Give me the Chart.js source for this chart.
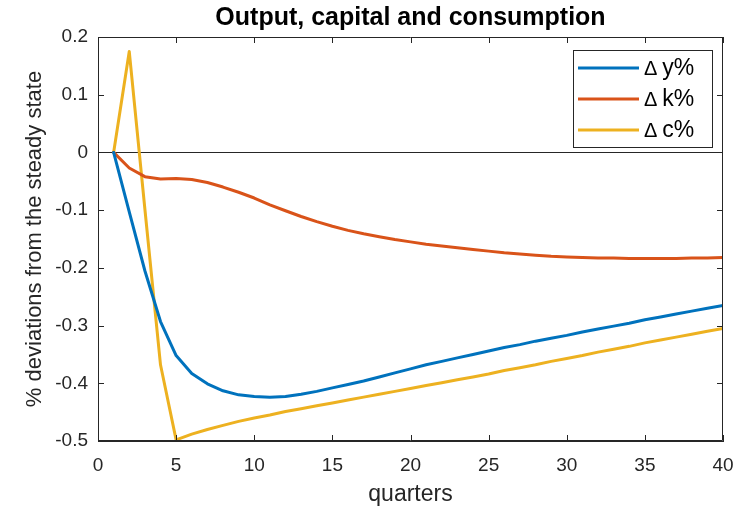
<!DOCTYPE html>
<html>
<head>
<meta charset="utf-8">
<script src="https://cdn.jsdelivr.net/npm/chart.js@4.4.1/dist/chart.umd.min.js"></script>
<style>
html,body{margin:0;padding:0;background:#fff;}
canvas{display:block;}
</style>
</head>
<body>
<canvas id="c" width="743" height="510"></canvas>
<script>
const quarters = [1,2,3,4,5,6,7,8,9,10,11,12,13,14,15,16,17,18,19,20,21,22,23,24,25,26,27,28,29,30,31,32,33,34,35,36,37,38,39,40];
const dy = [0,-0.103,-0.205,-0.293,-0.352,-0.383,-0.401,-0.413,-0.420,-0.423,-0.424,-0.423,-0.419,-0.414,-0.408,-0.402,-0.396,-0.389,-0.382,-0.375,-0.368,-0.362,-0.356,-0.350,-0.344,-0.338,-0.333,-0.327,-0.322,-0.317,-0.311,-0.306,-0.301,-0.296,-0.290,-0.285,-0.280,-0.275,-0.270,-0.265];
const dk = [0,-0.027,-0.042,-0.046,-0.045,-0.047,-0.052,-0.060,-0.069,-0.079,-0.091,-0.101,-0.111,-0.120,-0.128,-0.135,-0.141,-0.146,-0.151,-0.155,-0.159,-0.162,-0.165,-0.168,-0.171,-0.174,-0.176,-0.178,-0.180,-0.181,-0.182,-0.183,-0.183,-0.184,-0.184,-0.184,-0.184,-0.183,-0.183,-0.182];
const dc = [0,0.175,-0.098,-0.368,-0.498,-0.488,-0.480,-0.473,-0.466,-0.460,-0.455,-0.449,-0.444,-0.439,-0.434,-0.429,-0.424,-0.419,-0.414,-0.409,-0.404,-0.399,-0.394,-0.389,-0.384,-0.378,-0.373,-0.368,-0.362,-0.357,-0.352,-0.346,-0.341,-0.336,-0.330,-0.325,-0.320,-0.315,-0.310,-0.305];
const seriesLabels = ['\u0394 y%','\u0394 k%','\u0394 c%'];
const seriesColors = ['#0072BD','#D95319','#EDB120'];
const xTicks = [0,5,10,15,20,25,30,35,40];
const xTickLabels = ['0','5','10','15','20','25','30','35','40'];
const yTicks = [-0.5,-0.4,-0.3,-0.2,-0.1,0,0.1,0.2];
const yTickLabels = ['-0.5','-0.4','-0.3','-0.2','-0.1','0','0.1','0.2'];
const titleText = 'Output, capital and consumption';
const xTitle = 'quarters';
const yTitle = '% deviations from the steady state';

const FONT = "'Liberation Sans', Arial, sans-serif";
const AX = '#262626';

function pts(arr){ return quarters.map((q,i)=>({x:q,y:arr[i]})); }

const frameAndTicks = {
  id:'frameAndTicks',
  afterDatasetsDraw(chart){
    const {ctx, chartArea:a, scales:{x,y}} = chart;
    ctx.save();
    ctx.strokeStyle = AX; ctx.lineWidth = 1;
    ctx.beginPath();
    ctx.rect(a.left+0.5, a.top+0.5, a.right-a.left-1, a.bottom-a.top-1);
    ctx.stroke();
    const L = 6;
    ctx.beginPath();
    x.ticks.forEach(t=>{
      const px = Math.round(x.getPixelForValue(t.value))+0.5;
      ctx.moveTo(px,a.bottom); ctx.lineTo(px,a.bottom-L);
      ctx.moveTo(px,a.top); ctx.lineTo(px,a.top+L);
    });
    y.ticks.forEach(t=>{
      const py = Math.round(y.getPixelForValue(t.value))+0.5;
      ctx.moveTo(a.left,py); ctx.lineTo(a.left+L,py);
      ctx.moveTo(a.right,py); ctx.lineTo(a.right-L,py);
    });
    ctx.stroke();
    ctx.restore();
  },
  afterDraw(chart){
    const {ctx, chartArea:a} = chart;
    const w = 139, h = 97;
    const bx = a.right - 11 - w, by = a.top + 13;
    ctx.save();
    ctx.fillStyle = '#fff';
    ctx.fillRect(bx,by,w,h);
    ctx.strokeStyle = AX; ctx.lineWidth = 1;
    ctx.strokeRect(Math.round(bx)+0.5, Math.round(by)+0.5, w, h);
    ctx.textBaseline = 'middle';
    ctx.fillStyle = '#000';
    chart.data.datasets.forEach((ds,i)=>{
      const cy = by + 18 + i*31;
      ctx.strokeStyle = ds.borderColor; ctx.lineWidth = 3;
      ctx.beginPath(); ctx.moveTo(bx+5,cy); ctx.lineTo(bx+66,cy); ctx.stroke();
      const parts = ds.label.split(' ');
      ctx.font = '20px ' + FONT;
      ctx.fillText(parts[0], bx+71, cy+1);
      const w0 = ctx.measureText(parts[0]).width;
      ctx.font = '23px ' + FONT;
      ctx.fillText(parts.slice(1).join(' '), bx+71+w0+5, cy+1);
    });
    ctx.restore();
  }
};

new Chart(document.getElementById('c'), {
  type:'line',
  data:{
    datasets:[
      {label:seriesLabels[0], data:pts(dy), borderColor:seriesColors[0]},
      {label:seriesLabels[1], data:pts(dk), borderColor:seriesColors[1]},
      {label:seriesLabels[2], data:pts(dc), borderColor:seriesColors[2]}
    ]
  },
  options:{
    responsive:false,
    animation:false,
    devicePixelRatio:1,
    layout:{padding:{left:0,right:20,top:0,bottom:0}},
    elements:{
      point:{radius:0},
      line:{borderWidth:3, tension:0, fill:false, borderCapStyle:'round', borderJoinStyle:'round'}
    },
    plugins:{
      legend:{display:false},
      tooltip:{enabled:false},
      title:{
        display:true, text:titleText, fullSize:false,
        font:{family:FONT, size:25, weight:'bold'}, color:'#000',
        padding:{top:3,bottom:4}
      }
    },
    scales:{
      x:{
        type:'linear', min:0, max:40,
        afterBuildTicks(s){ s.ticks = xTicks.map(v=>({value:v})); },
        afterFit(s){ s.height = 69; s.paddingRight = 0; s.paddingLeft = 0; },
        ticks:{
          callback:(v,i)=>xTickLabels[i],
          font:{family:FONT,size:19}, color:AX, padding:13, maxRotation:0
        },
        grid:{display:true, drawOnChartArea:false, drawTicks:false},
        border:{display:true, color:AX, width:1},
        title:{display:true, text:xTitle, font:{family:FONT,size:23}, color:AX, padding:{top:0,bottom:2}}
      },
      y:{
        type:'linear', min:-0.5, max:0.2,
        afterBuildTicks(s){ s.ticks = yTicks.map(v=>({value:v})); },
        afterFit(s){ s.width = 98; s.paddingTop = 0; s.paddingBottom = 0; },
        ticks:{
          callback:(v,i)=>yTickLabels[i],
          font:{family:FONT,size:19}, color:AX, padding:10
        },
        grid:{
          display:true, drawTicks:false,
          color:c=> (c.tick && c.tick.value===0) ? '#262626' : 'rgba(0,0,0,0)',
          lineWidth:1
        },
        border:{display:true, color:AX, width:1},
        title:{display:true, text:yTitle, font:{family:FONT,size:22}, color:AX, padding:{top:22,bottom:0}}
      }
    }
  },
  plugins:[frameAndTicks]
});
</script>
</body>
</html>
